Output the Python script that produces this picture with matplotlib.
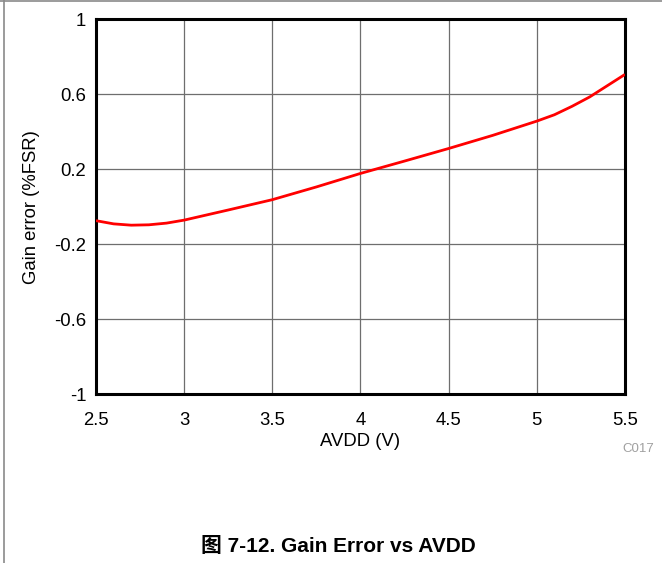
import matplotlib.pyplot as plt
from matplotlib.lines import Line2D

plt.rcParams['font.family'] = ['Liberation Sans', 'Noto Sans CJK SC', 'DejaVu Sans']

# gain error vs supply voltage
avdd = [2.5, 2.6, 2.7, 2.8, 2.9, 3.0, 3.25, 3.5, 3.75, 4.0, 4.25, 4.5, 4.75,
        5.0, 5.1, 5.2, 5.3, 5.4, 5.5]
gain_err = [-0.075, -0.092, -0.099, -0.097, -0.088, -0.072, -0.018, 0.037, 0.105,
            0.177, 0.243, 0.31, 0.38, 0.456, 0.49, 0.535, 0.585, 0.645, 0.705]

xticks = [2.5, 3, 3.5, 4, 4.5, 5, 5.5]
xlabels = ['2.5', '3', '3.5', '4', '4.5', '5', '5.5']
yticks = [-1, -0.6, -0.2, 0.2, 0.6, 1]
ylabels = ['-1', '-0.6', '-0.2', '0.2', '0.6', '1']

fig = plt.figure(figsize=(6.62, 5.63), dpi=100)
ax = fig.add_axes([0.145, 0.300, 0.799, 0.666])

ax.plot(avdd, gain_err, color='#ff0000', lw=2.0, solid_capstyle='butt', zorder=3)

ax.set_xlim(2.5, 5.5)
ax.set_ylim(-1, 1)
ax.set_xticks(xticks)
ax.set_xticklabels(xlabels)
ax.set_yticks(yticks)
ax.set_yticklabels(ylabels)
ax.tick_params(length=0, labelsize=13.3)
ax.tick_params(axis='x', pad=13)
ax.tick_params(axis='y', pad=7)
ax.grid(True, color='#6e6e6e', lw=0.9)
for s in ax.spines.values():
    s.set_linewidth(2.2)
    s.set_color('black')

ax.set_xlabel('AVDD (V)', fontsize=13.3, labelpad=3)
ax.set_ylabel('Gain error (%FSR)', fontsize=13.3, labelpad=10)

fig.text(0.988, 0.202, 'C017', color='#a0a0a0', fontsize=9.5, ha='right', va='center')
fig.text(0.511, 0.030, '图 7-12. Gain Error vs AVDD', fontsize=15, fontweight='bold',
         ha='center', va='center')

# page frame (left and top edges)
fig.add_artist(Line2D([0.0065, 0.0065], [0, 1], transform=fig.transFigure, color='#8a8a8a', lw=1.2))
fig.add_artist(Line2D([0, 1], [0.998, 0.998], transform=fig.transFigure, color='#8a8a8a', lw=1.2))

fig.savefig('out.png', dpi=100)
